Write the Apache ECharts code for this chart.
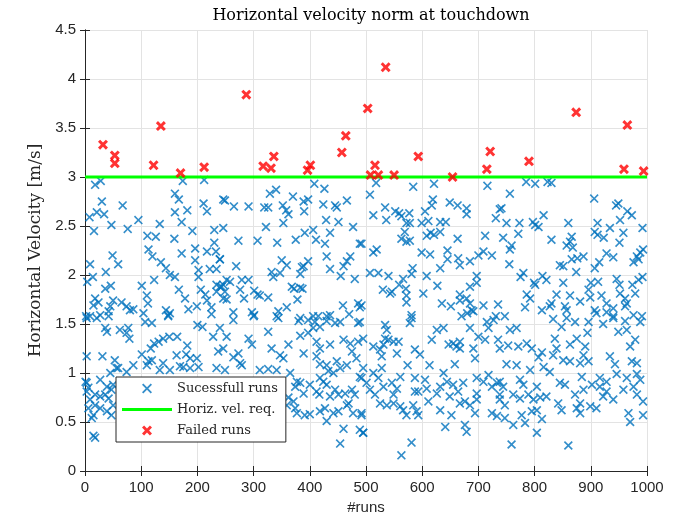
<!DOCTYPE html>
<html>
<head>
<meta charset="utf-8">
<script src="https://cdn.jsdelivr.net/npm/echarts@6/dist/echarts.min.js"></script>
<style>
  html, body { margin: 0; padding: 0; background: #fff; }
  #chart { width: 682px; height: 525px; }
</style>
</head>
<body>
<div id="chart"></div>
<script>
// [run, horizontal velocity] of the successful runs
const okRuns = [
  [18,2.92],[28,2.96],[30,2.75],[67,2.71],[21,2.64],[34,2.62],[8,2.59],[47,2.51],[16,2.45],[76,2.47],[95,2.56],[160,2.83],
  [167,2.77],[182,2.66],[160,2.64],[172,2.54],[133,2.52],[211,2.73],[217,2.65],[212,2.97],[174,2.96],[246,2.77],[111,2.40],
  [126,2.39],[159,2.37],[191,2.45],[230,2.46],[230,2.33],[196,2.27],[196,2.15],[217,2.24],[233,2.24],[240,2.16],[113,2.26],
  [120,2.19],[135,2.13],[49,2.20],[59,2.11],[9,2.11],[172,2.22],[144,2.07],[151,2.00],[160,1.98],[123,1.95],[202,2.05],
  [202,1.98],[222,2.06],[234,2.06],[37,2.03],[14,1.98],[4,1.93],[46,1.89],[36,1.86],[101,1.89],[110,1.79],[112,1.71],
  [167,1.85],[178,1.76],[199,1.68],[206,1.85],[214,1.80],[217,1.74],[225,1.67],[234,1.90],[234,1.83],[246,1.90],[18,1.76],
  [24,1.72],[15,1.69],[50,1.74],[45,1.68],[65,1.72],[74,1.68],[80,1.64],[86,1.65],[42,1.63],[27,1.59],[9,1.58],[2,1.58],
  [104,1.61],[144,1.64],[148,1.59],[184,1.65],[225,1.60],[240,1.88],[151,1.61],
  [408,2.93],[426,2.88],[329,2.83],[340,2.87],[249,2.76],[265,2.70],[291,2.70],[319,2.69],[326,2.69],[352,2.71],[358,2.66],
  [362,2.62],[370,2.80],[389,2.75],[397,2.77],[390,2.65],[424,2.72],[445,2.71],[448,2.69],[466,2.76],[429,2.56],[451,2.54],
  [353,2.53],[322,2.49],[246,2.48],[391,2.43],[406,2.46],[436,2.43],[477,2.49],[273,2.35],[307,2.35],[342,2.33],[375,2.36],
  [411,2.36],[427,2.32],[489,2.32],[240,2.16],[269,2.09],[350,2.15],[359,2.10],[397,2.14],[389,2.09],[430,2.19],[436,2.06],
  [466,2.14],[472,2.19],[460,2.09],[455,1.99],[480,1.96],[332,2.03],[335,1.98],[347,2.02],[383,2.01],[386,2.08],[252,1.95],
  [258,1.93],[279,1.95],[291,1.95],[243,1.88],[249,1.83],[276,1.85],[301,1.84],[307,1.80],[311,1.79],[326,1.77],[283,1.76],
  [246,1.76],[252,1.75],[368,1.88],[372,1.86],[383,1.87],[387,1.86],[378,1.75],[344,1.63],[359,1.67],[264,1.62],[297,1.62],
  [301,1.59],[341,1.58],[459,1.69],[486,1.71],[489,1.67],[470,1.60],[436,1.59],[406,1.58],[415,1.58],[430,1.58],[383,1.56],
  [518,2.94],[584,2.90],[621,2.93],[716,2.91],[507,2.82],[513,2.61],[534,2.69],[536,2.56],[552,2.65],[563,2.60],[559,2.63],
  [577,2.63],[578,2.53],[572,2.53],[599,2.53],[605,2.65],[611,2.55],[619,2.77],[617,2.71],[632,2.54],[642,2.54],[649,2.74],
  [663,2.71],[679,2.68],[679,2.62],[731,2.58],[738,2.67],[569,2.44],[563,2.37],[572,2.34],[578,2.35],[608,2.40],[615,2.43],
  [621,2.41],[632,2.44],[663,2.37],[712,2.40],[492,2.32],[513,2.23],[519,2.26],[599,2.23],[614,2.21],[645,2.25],[645,2.16],
  [664,2.17],[667,2.10],[685,2.14],[700,2.20],[709,2.24],[724,2.20],[507,2.02],[522,2.02],[540,1.99],[566,1.96],[583,2.07],
  [581,2.01],[608,1.99],[632,2.07],[697,1.99],[697,1.92],[685,1.88],[530,1.85],[546,1.83],[543,1.81],[559,1.90],[571,1.86],
  [572,1.79],[572,1.72],[602,1.81],[627,1.89],[635,1.71],[651,1.68],[667,1.80],[667,1.74],[679,1.76],[685,1.71],[688,1.64],
  [691,1.63],[709,1.69],[735,1.70],[731,1.58],[581,1.59],[492,1.69],[680,1.61],
  [785,2.95],[801,2.93],[823,2.95],[830,2.94],[756,2.83],[906,2.78],[945,2.71],[949,2.73],[965,2.65],[973,2.61],[816,2.61],
  [952,2.56],[741,2.68],[750,2.53],[773,2.53],[797,2.54],[801,2.51],[807,2.49],[860,2.53],[912,2.53],[907,2.44],[934,2.48],
  [992,2.48],[744,2.38],[771,2.42],[830,2.36],[866,2.39],[863,2.34],[912,2.41],[923,2.38],[958,2.43],[951,2.33],[759,2.30],
  [756,2.26],[857,2.30],[868,2.28],[928,2.22],[940,2.18],[982,2.19],[988,2.23],[993,2.26],[755,2.11],[866,2.16],[876,2.17],
  [887,2.19],[915,2.13],[845,2.10],[851,2.09],[874,2.03],[907,2.07],[976,2.13],[985,2.16],[780,2.02],[775,1.98],[799,1.92],
  [801,1.90],[814,1.99],[821,1.95],[851,1.92],[900,1.92],[913,1.93],[946,1.96],[951,1.90],[974,1.90],[985,1.95],[992,1.98],
  [786,1.80],[792,1.76],[839,1.80],[863,1.79],[881,1.73],[896,1.85],[899,1.77],[919,1.79],[928,1.71],[952,1.81],[961,1.76],
  [979,1.81],[783,1.67],[813,1.64],[830,1.71],[827,1.68],[854,1.68],[857,1.64],[907,1.64],[910,1.61],[928,1.62],[940,1.66],
  [961,1.68],[964,1.71],[940,1.58],[747,1.58],[991,1.58],[976,1.59],
  [3,1.56],[21,1.56],[42,1.58],[36,1.46],[39,1.42],[62,1.44],[74,1.41],[79,1.35],[77,1.46],[107,1.52],[119,1.51],[148,1.58],
  [139,1.35],[150,1.37],[164,1.37],[200,1.49],[209,1.47],[228,1.37],[240,1.46],[3,1.17],[31,1.17],[53,1.13],[59,1.05],
  [101,1.19],[117,1.25],[123,1.30],[131,1.32],[113,1.12],[119,1.13],[110,1.08],[139,1.10],[163,1.18],[182,1.28],[180,1.19],
  [187,1.15],[199,1.15],[237,1.22],[246,1.25],[169,1.07],[175,1.06],[187,1.05],[202,1.06],[234,1.05],[133,1.03],[151,1.03],
  [86,1.08],[74,1.01],[45,1.00],[56,1.05],[3,0.90],[6,0.85],[3,0.81],[18,0.78],[27,0.76],[36,0.78],[42,0.74],[9,0.73],
  [18,0.67],[27,0.64],[39,0.61],[47,0.57],[50,0.67],[6,0.64],[15,0.57],[12,0.54],[1,0.91],[27,0.93],[39,0.86],[50,0.88],
  [47,0.83],[15,0.36],[18,0.34],
  [264,1.54],[300,1.58],[344,1.56],[380,1.53],[397,1.54],[409,1.52],[406,1.46],[418,1.47],[430,1.53],[445,1.51],[454,1.52],
  [486,1.51],[252,1.37],[291,1.35],[297,1.29],[326,1.42],[332,1.25],[347,1.18],[353,1.15],[362,1.29],[389,1.20],[383,1.38],
  [397,1.41],[412,1.32],[418,1.25],[436,1.29],[460,1.34],[472,1.30],[486,1.32],[273,1.20],[264,1.16],[276,1.10],[279,1.08],
  [249,1.03],[311,1.03],[326,1.04],[341,1.03],[365,1.00],[412,1.17],[418,1.09],[430,1.08],[433,1.02],[442,1.00],[448,1.12],
  [454,1.05],[466,1.08],[475,1.22],[483,1.15],[489,0.96],[418,0.95],[424,0.91],[430,0.88],[417,0.78],[412,0.81],[383,0.90],
  [374,0.86],[377,0.91],[389,0.79],[400,0.88],[445,0.83],[451,0.78],[463,0.79],[475,0.83],[480,0.78],[469,0.69],[436,0.76],
  [418,0.61],[427,0.64],[442,0.59],[451,0.61],[477,0.59],[492,0.59],[466,0.67],[374,0.64],[377,0.59],[391,0.57],[400,0.58],
  [371,0.71],[359,0.67],[362,0.75],[430,0.51],[460,0.43],[454,0.28],[489,0.42],[495,0.39],
  [581,1.56],[578,1.51],[534,1.49],[537,1.44],[489,1.52],[495,1.35],[534,1.35],[531,1.29],[540,1.34],[549,1.32],[558,1.32],
  [525,1.24],[513,1.27],[528,1.17],[555,1.20],[587,1.24],[596,1.19],[574,1.08],[613,1.08],[626,1.44],[638,1.46],[617,1.34],
  [647,1.29],[655,1.30],[667,1.32],[661,1.27],[658,1.09],[667,1.25],[685,1.46],[691,1.25],[694,1.15],[700,1.37],[712,1.34],
  [718,1.46],[735,1.34],[738,1.25],[670,1.58],[715,1.52],[727,1.54],[495,1.05],[492,0.95],[501,0.90],[513,1.00],[522,0.95],
  [528,1.05],[507,0.83],[516,0.78],[531,0.86],[546,0.90],[549,0.78],[555,0.84],[561,0.96],[537,0.67],[525,0.69],[549,0.69],
  [561,0.66],[566,0.62],[572,0.57],[584,0.67],[590,0.61],[593,0.57],[587,0.81],[593,0.81],[587,0.95],[605,0.93],[608,0.84],
  [611,0.71],[626,0.79],[632,0.86],[638,1.00],[644,0.91],[655,0.88],[649,0.76],[664,0.81],[673,0.90],[667,0.69],[676,0.71],
  [685,0.67],[694,0.59],[697,0.79],[697,0.95],[709,0.91],[718,0.98],[724,0.86],[733,0.90],[738,0.78],[724,0.59],[733,0.56],
  [697,0.73],[632,0.62],[652,0.57],[641,0.45],[676,0.47],[679,0.40],[495,0.39],[581,0.29],[563,0.16],[492,0.57],
  [833,1.55],[857,1.56],[872,1.52],[896,1.52],[922,1.50],[940,1.56],[961,1.53],[988,1.52],[756,1.44],[768,1.46],[848,1.47],
  [875,1.35],[894,1.41],[949,1.42],[964,1.44],[979,1.34],[753,1.28],[771,1.27],[786,1.30],[795,1.25],[813,1.21],[807,1.16],
  [836,1.35],[839,1.25],[833,1.18],[863,1.29],[890,1.27],[887,1.18],[851,1.13],[863,1.12],[881,1.10],[896,1.12],[934,1.17],
  [943,1.09],[970,1.27],[973,1.12],[982,1.10],[750,1.09],[768,1.08],[792,1.03],[816,1.06],[827,1.01],[884,0.96],[916,0.95],
  [946,0.99],[964,0.95],[982,0.99],[988,0.93],[738,0.91],[744,0.86],[774,0.93],[780,0.88],[804,0.86],[845,0.90],[854,0.88],
  [872,0.78],[887,0.83],[902,0.88],[916,0.86],[928,0.91],[928,0.81],[922,0.76],[940,0.73],[958,0.83],[976,0.86],[982,0.78],
  [993,0.71],[738,0.73],[747,0.67],[762,0.78],[774,0.74],[789,0.78],[798,0.73],[810,0.75],[821,0.76],[842,0.69],[848,0.62],
  [881,0.69],[875,0.64],[899,0.66],[910,0.64],[795,0.61],[804,0.62],[777,0.57],[747,0.54],[762,0.47],[783,0.49],[813,0.53],
  [881,0.59],[967,0.59],[970,0.50],[993,0.57],[804,0.39],[759,0.27],[860,0.26]
];

// [run, horizontal velocity] of the failed runs
const failedRuns = [
  [32,3.33],[53,3.22],[53,3.14],[122,3.12],[135,3.52],[170,3.04],[212,3.10],[287,3.84],[317,3.11],[331,3.09],
  [336,3.21],[396,3.07],[401,3.12],[457,3.25],[464,3.42],[503,3.70],[508,3.02],[516,3.12],[522,3.02],[535,4.12],
  [550,3.02],[593,3.21],[654,3.00],[715,3.08],[721,3.26],[790,3.16],[874,3.66],[959,3.08],[965,3.53],[994,3.06]
];

// velocity requirement line
const reqRuns = [0, 1000];
const reqVel = [3, 3];

const xTicks = [0, 1000, 100];
const yTicks = [0, 4.5, 0.5];

const thinCross = 'path://M0,1.3L1.3,0L5,3.7L8.7,0L10,1.3L6.3,5L10,8.7L8.7,10L5,6.3L1.3,10L0,8.7L3.7,5Z';
const boldCross = 'path://M0,2.1L2.1,0L5,2.9L7.9,0L10,2.1L7.1,5L10,7.9L7.9,10L5,7.1L2.1,10L0,7.9L2.9,5Z';
const lineIcon = 'path://M0,0L50,0L50,3L0,3Z';

const axisColor = '#262626';
const sans = 'Liberation Sans';
const serif = 'DejaVu Serif';

const chart = echarts.init(document.getElementById('chart'));

const baseX = {
    type: 'value',
    min: xTicks[0],
    max: xTicks[1],
    interval: xTicks[2],
    axisLine: { show: true, lineStyle: { color: axisColor, width: 1 } },
    axisTick: { show: true, inside: true, length: 5, lineStyle: { color: axisColor } },
    splitLine: { show: false }
};
const baseY = {
    type: 'value',
    min: yTicks[0],
    max: yTicks[1],
    interval: yTicks[2],
    axisLine: { show: true, lineStyle: { color: axisColor, width: 1 } },
    axisTick: { show: true, inside: true, length: 5, lineStyle: { color: axisColor } },
    splitLine: { show: false }
};

const option = {
    backgroundColor: '#fff',
    animation: false,
    title: {
        text: 'Horizontal velocity norm at touchdown',
        left: 366,
        top: 3,
        textAlign: 'center',
        textStyle: { fontFamily: serif, fontSize: 16, fontWeight: 'normal', color: '#000' }
    },
    grid: { left: 85, right: 35, top: 30, bottom: 54 },
    legend: {
        orient: 'vertical',
        left: 116,
        top: 377,
        itemWidth: 50,
        itemHeight: 10,
        itemGap: 8,
        padding: [5, 8, 5, 6],
        backgroundColor: '#fff',
        borderColor: axisColor,
        borderWidth: 1,
        textStyle: { fontFamily: serif, fontSize: 13, color: axisColor },
        data: [
            'Sucessfull runs',
            { name: 'Horiz. vel. req.', icon: lineIcon },
            'Failed runs'
        ]
    },
    xAxis: [
        Object.assign({}, baseX, {
            position: 'bottom',
            name: '#runs',
            nameLocation: 'middle',
            nameGap: 28,
            nameTextStyle: { fontFamily: sans, fontSize: 15, color: axisColor },
            axisLabel: { fontFamily: sans, fontSize: 15, color: axisColor, margin: 9, formatter: v => String(v) },
            splitLine: { show: true, lineStyle: { color: '#e3e3e3', width: 1 } }
        }),
        Object.assign({}, baseX, { position: 'top', axisLabel: { show: false } })
    ],
    yAxis: [
        Object.assign({}, baseY, {
            position: 'left',
            name: 'Horizontal Velocity [m/s]',
            nameLocation: 'middle',
            nameGap: 36,
            nameTextStyle: { fontFamily: serif, fontSize: 17, color: axisColor },
            axisLabel: { fontFamily: sans, fontSize: 15, color: axisColor, margin: 9 },
            splitLine: { show: true, lineStyle: { color: '#e3e3e3', width: 1 } }
        }),
        Object.assign({}, baseY, { position: 'right', axisLabel: { show: false } })
    ],
    series: [
        {
            name: 'Sucessfull runs',
            type: 'scatter',
            symbol: thinCross,
            symbolSize: 9,
            itemStyle: { color: '#0072BD' },
            data: okRuns,
            z: 2
        },
        {
            name: 'Horiz. vel. req.',
            type: 'line',
            symbol: 'none',
            lineStyle: { color: '#00FF00', width: 3 },
            itemStyle: { color: '#00FF00' },
            data: reqRuns.map((r, i) => [r, reqVel[i]]),
            z: 3
        },
        {
            name: 'Failed runs',
            type: 'scatter',
            symbol: boldCross,
            symbolSize: 10,
            itemStyle: { color: '#FF0000' },
            data: failedRuns,
            z: 4
        }
    ]
};

chart.setOption(option);
</script>
</body>
</html>
